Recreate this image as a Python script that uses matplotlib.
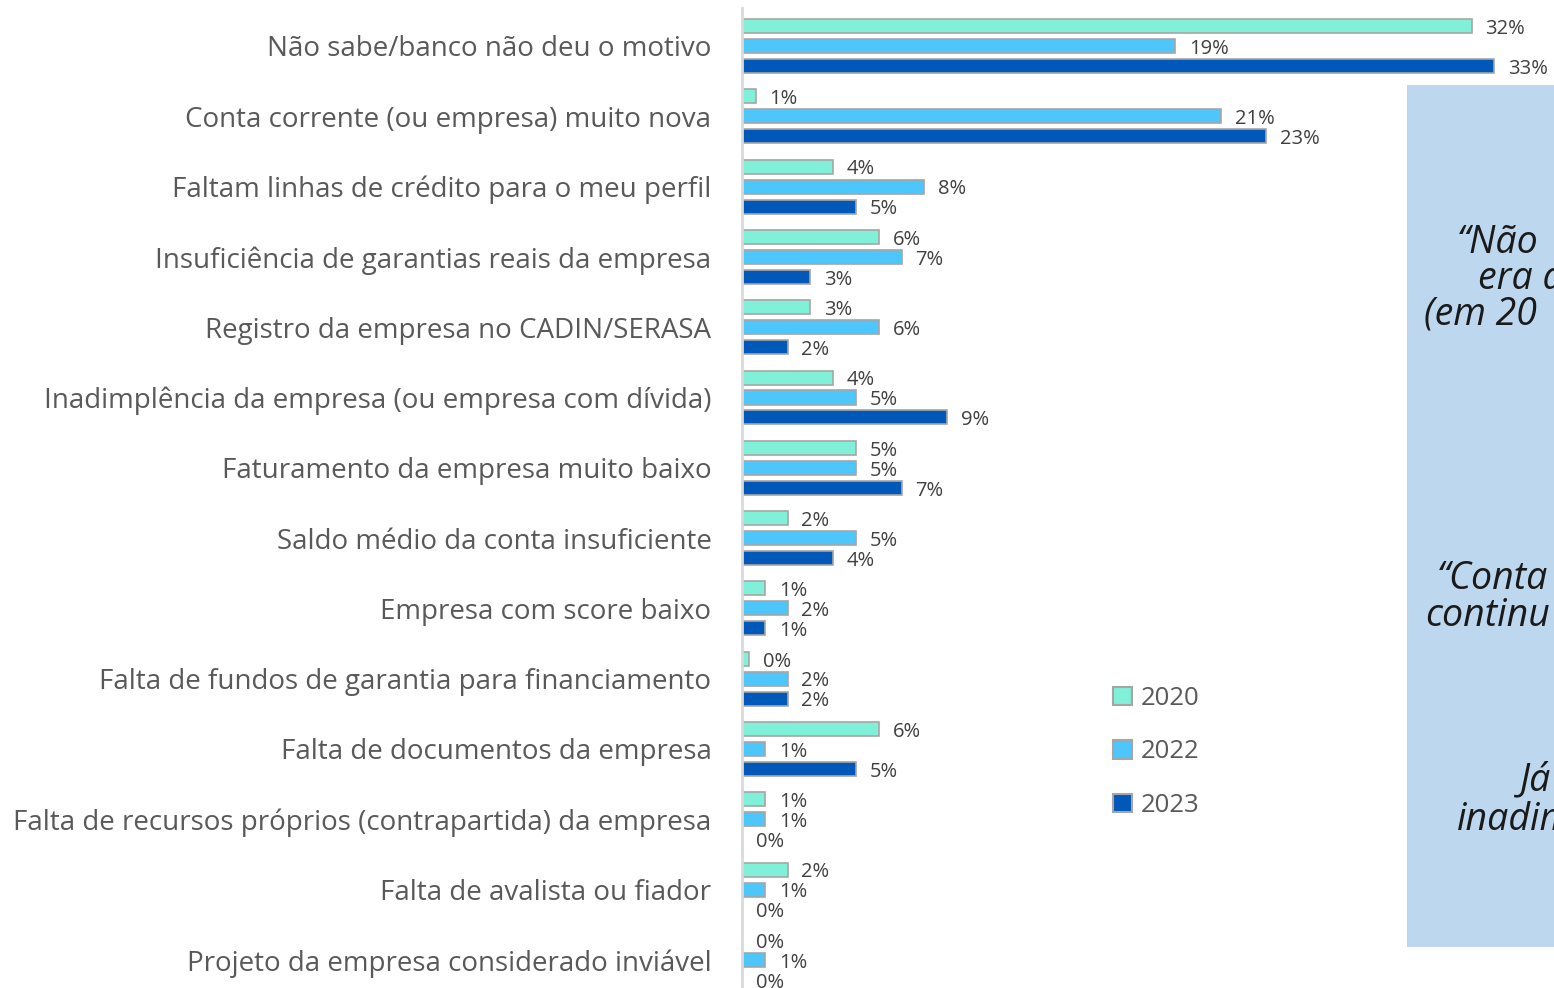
import matplotlib.pyplot as plt
from matplotlib.patches import Rectangle

plt.rcParams['font.family'] = ['Open Sans', 'DejaVu Sans']

# dados (% de empresas)
categorias = [
    "Não sabe/banco não deu o motivo",
    "Conta corrente (ou empresa) muito nova",
    "Faltam linhas de crédito para o meu perfil",
    "Insuficiência de garantias reais da empresa",
    "Registro da empresa no CADIN/SERASA",
    "Inadimplência da empresa (ou empresa com dívida)",
    "Faturamento da empresa muito baixo",
    "Saldo médio da conta insuficiente",
    "Empresa com score baixo",
    "Falta de fundos de garantia para financiamento",
    "Falta de documentos da empresa",
    "Falta de recursos próprios (contrapartida) da empresa",
    "Falta de avalista ou fiador",
    "Projeto da empresa considerado inviável",
]
v2020 = [32.0, 0.6, 4.0, 6.0, 3.0, 4.0, 5.0, 2.0, 1.0, 0.3, 6.0, 1.0, 2.0, 0.0]
v2022 = [19.0, 21.0, 8.0, 7.0, 6.0, 5.0, 5.0, 5.0, 2.0, 2.0, 1.0, 1.0, 1.0, 1.0]
v2023 = [33.0, 23.0, 5.0, 3.0, 2.0, 9.0, 7.0, 4.0, 1.0, 2.0, 5.0, 0.0, 0.0, 0.0]
anos = ["2020", "2022", "2023"]
cores = ["#80F0D8", "#4DC6FC", "#0059B8"]

W, H = 1554, 988
fig = plt.figure(figsize=(W / 100, H / 100), dpi=100)

# eixo: esquerda em x=742px, topo em y=8px
ax = fig.add_axes([742 / W, 0, 1 - 742 / W, 1 - 8 / H])
passo = 70.3
ax.set_ylim((H - 46) / passo, -(46 - 8) / passo)
ax.set_xlim(0, (W - 742) / 22.8)

# caixa azul à direita (atrás das barras)
fig.patches.append(Rectangle((1407 / W, 1 - 947 / H), (W - 1407) / W, (947 - 85) / H,
                             transform=fig.transFigure, facecolor="#BDD7EE",
                             edgecolor="none", zorder=0))
ax.set_facecolor("none")

y = list(range(len(categorias)))
desloc = [-0.284, 0.0, 0.284]
for serie, cor, d in zip([v2020, v2022, v2023], cores, desloc):
    pos = [i + d for i in y]
    ax.barh(pos, serie, height=0.2, color=cor, edgecolor="#A6A6A6", linewidth=1.2)
    for p, v in zip(pos, serie):
        ax.annotate(f"{v:.0f}%", (v, p), xytext=(10, -2), textcoords="offset points",
                    ha="left", va="center", fontsize=14.5, color="#404040",
                    annotation_clip=False)

ax.set_yticks(y)
ax.set_yticklabels(categorias, fontsize=20, color="#595959")
ax.tick_params(axis="y", length=0, pad=22)
ax.set_xticks([])
for s in ["top", "right", "bottom"]:
    ax.spines[s].set_visible(False)
ax.spines["left"].set_color("#D9D9D9")
ax.spines["left"].set_linewidth(2)

# legenda
handles = [Rectangle((0, 0), 1, 1, facecolor=c, edgecolor="#A6A6A6", linewidth=1.5) for c in cores]
fig.legend(handles, anos, loc="center left", bbox_to_anchor=(1113 / W, 1 - 752 / H),
           bbox_transform=fig.transFigure, frameon=False, fontsize=18.5,
           handlelength=0.72, handleheight=0.72, handletextpad=0.35,
           labelspacing=1.12, borderpad=0, borderaxespad=0, labelcolor="#595959")

# texto em itálico (cortado pela borda da figura, como no original)
textos = [
    ("“Não", 1457, 243),
    ("era a", 1478, 279),
    ("(em 20", 1424, 315),
    ("“Conta", 1437, 579),
    ("continu", 1425, 616),
    ("Já", 1520, 780),
    ("inadim", 1457, 820),
]
for t, px, py in textos:
    fig.text(px / W, 1 - py / H, t, fontsize=27, style="italic", color="#1A1A1A",
             ha="left", va="center")

fig.savefig("out.png", dpi=100)
